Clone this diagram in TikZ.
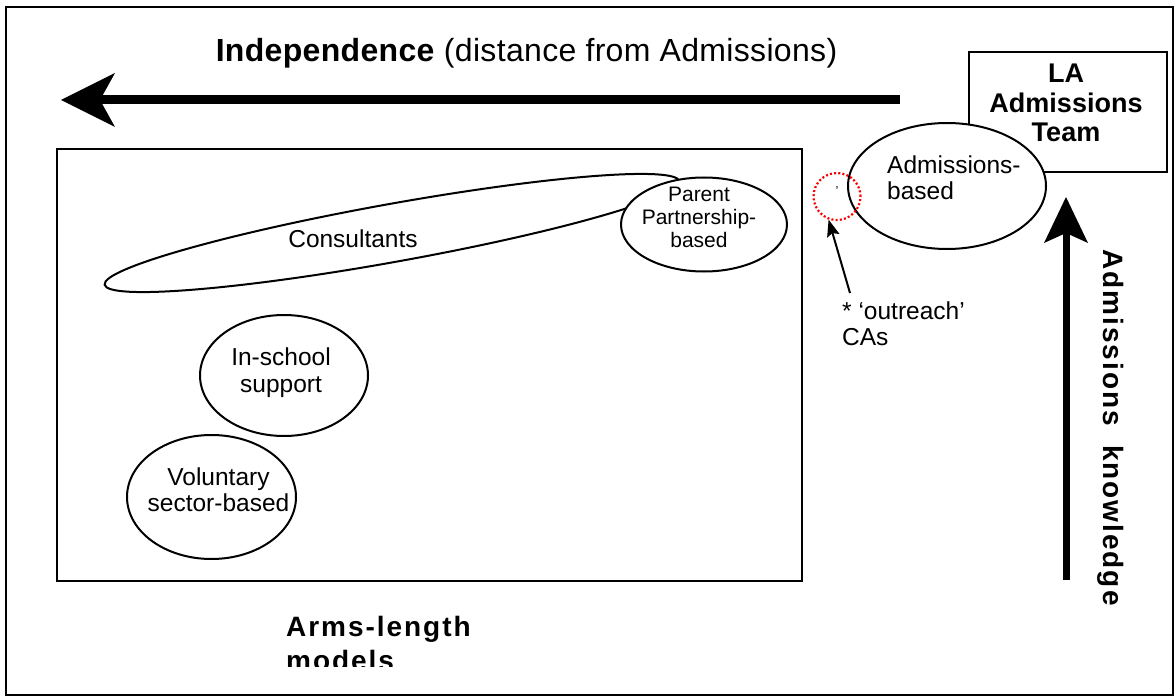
\documentclass[tikz,border=0pt]{standalone}
\usepackage{fontspec}
\setmainfont{Liberation Sans}
\newfontfamily\trackedfont[LetterSpace=7]{Liberation Sans}
\newfontfamily\titlefont[LetterSpace=1]{Liberation Sans}
\usetikzlibrary{shapes.geometric,arrows.meta}
\begin{document}
\begin{tikzpicture}[x=1pt,y=-1pt,
  oval/.style={draw,ellipse,line width=2pt,fill=white,inner sep=0pt},
  frame/.style={draw,line width=2pt},
  bigarrow/.style={line width=9pt,-{Stealth[length=54pt,width=54pt,inset=15pt,line width=0pt]}},
  vertarrow/.style={line width=7pt,-{Stealth[length=46pt,width=44pt,inset=10pt,line width=0pt]}},
  thinarrow/.style={line width=2pt,-{Stealth[length=17pt,width=13pt,inset=3pt,line width=0pt]}},
  txt/.style={font=\fontsize{24.5}{26.5}\selectfont,align=center,inner sep=0pt},
  ltxt/.style={font=\fontsize{24.5}{26}\selectfont,align=left,inner sep=0pt},
  btxt/.style={font=\trackedfont\bfseries\fontsize{28}{34}\selectfont,inner sep=0pt}]
\useasboundingbox (0,0) rectangle (1176,698);
% outer frame
\draw[frame] (6,7) rectangle (1173,695);
% title
\node[inner sep=0pt,anchor=base,font=\titlefont\fontsize{32}{36}\selectfont] (title) at (526.5,62) {\textbf{Independence} (distance from Admissions)};
% independence arrow
\coordinate (indstart) at (900,100);
\coordinate (indend) at (61,100);
\draw[bigarrow] (indstart) -- (indend);
% LA box
\node[frame,minimum width=198pt,minimum height=120pt,inner sep=0pt] (la) at (1068,112.5) {};
\node[inner sep=0pt,align=center,font=\bfseries\fontsize{27}{29.5}\selectfont] (latxt) at (1066,103) {LA\\Admissions\\Team};
% inner rectangle
\draw[frame] (57,149) rectangle (802,581);
% consultants ellipse
\draw[line width=2pt,rotate around={10.2:(392,233)}] (392,233) ellipse [x radius=292, y radius=29];
\node[txt,anchor=base] (cons) at (353,247) {Consultants};
% parent partnership
\node[oval,minimum width=166pt,minimum height=94pt] (pp) at (704,224.5) {};
\node[inner sep=0pt,align=center,font=\fontsize{21}{23}\selectfont] (pptxt) at (699,217.5) {Parent\\Partnership-\\based};
% admissions-based
\node[oval,minimum width=198pt,minimum height=126pt] (adm) at (947,186) {};
\node[ltxt,anchor=west] (admtxt) at (887,178) {Admissions-\\based};
% red dotted circle
\node[draw=red,circle,line width=2.2pt,dash pattern=on 2pt off 2.2pt,minimum size=47pt,inner sep=0pt] (outreach) at (837,196.5) {};
\node[inner sep=0pt,font=\fontsize{13}{13}\selectfont] (tick) at (837,191) {'};
% outreach label and arrow
\node[ltxt,anchor=west] (outtxt) at (842,324) {* ‘outreach’\\CAs};
\coordinate (outtail) at (850,293);
\draw[thinarrow] (outtail) -- (outreach.250);
% in-school
\node[oval,minimum width=168pt,minimum height=121pt] (insch) at (284,375.5) {};
\node[txt] (inschtxt) at (281,372.8) {In-school\\support};
% voluntary
\node[oval,minimum width=169pt,minimum height=124pt] (vol) at (211.5,497) {};
\node[txt] (voltxt) at (218.5,489.8) {Voluntary\\sector-based};
% arms-length
\begin{scope}
\clip (0,0) rectangle (1176,666);
\node[btxt,align=left,anchor=north west] (arms) at (286,616) {Arms-length\\models};
\end{scope}
% admissions knowledge arrow
\coordinate (akstart) at (1066,580);
\coordinate (akend) at (1066,197);
\draw[vertarrow] (akstart) -- (akend);
\node[btxt,rotate=-90,anchor=base] (ak) at (1103,427.5) {Admissions\ \ knowledge};
\end{tikzpicture}
\end{document}
